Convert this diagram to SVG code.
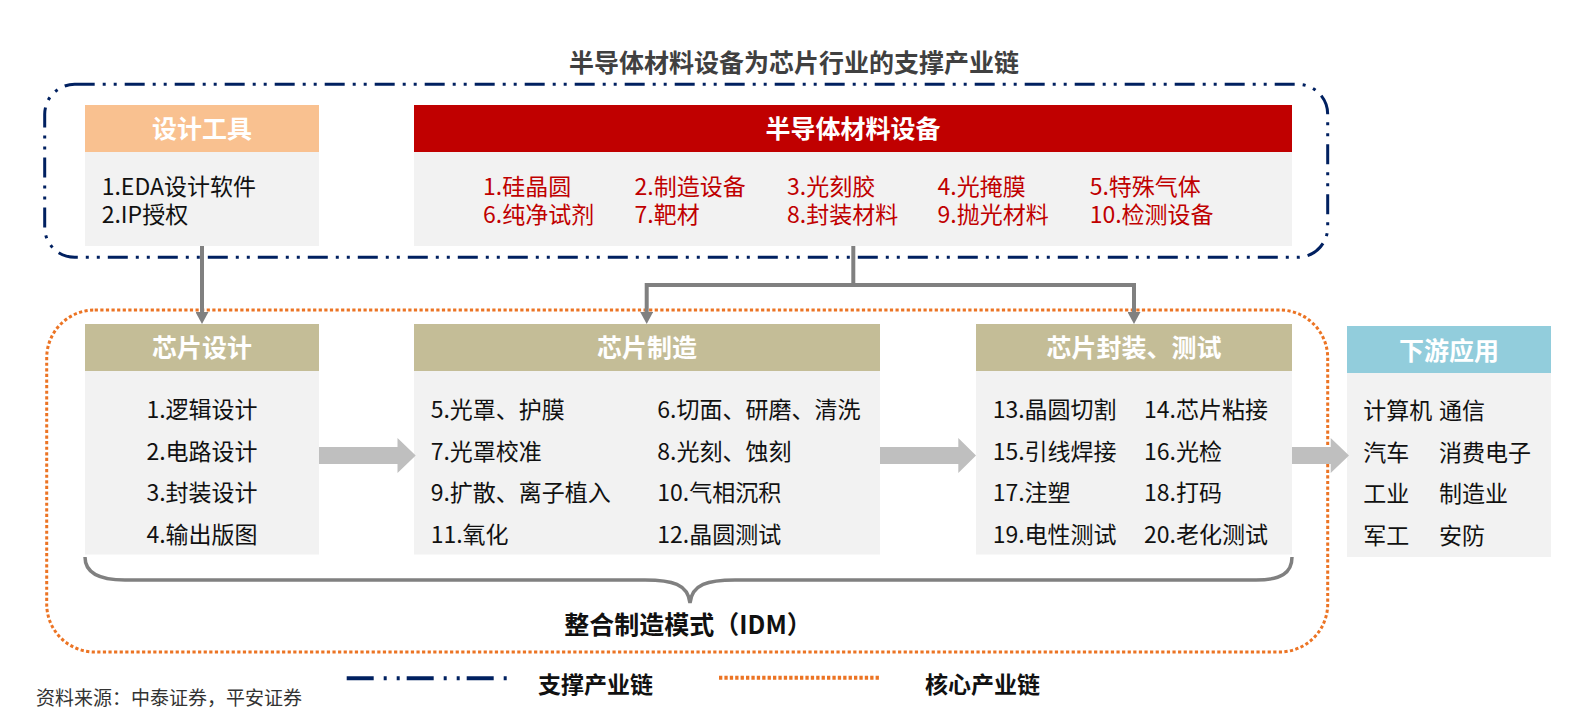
<svg xmlns="http://www.w3.org/2000/svg" width="1584" height="718" viewBox="0 0 1584 718">
<style>
text{font-family:"Noto Sans CJK SC","Noto Sans",sans-serif;}
.title{font-size:25px;font-weight:bold;fill:#404040;}
.hd{font-size:25px;font-weight:bold;fill:#ffffff;text-anchor:middle;}
.tx{font-size:23px;fill:#111111;}
.red{font-size:23px;fill:#C00000;}
.body{fill:#F2F2F2;}
.khaki{fill:#C4BD97;}
.blk{fill:#BFBFBF;}
.conn{fill:none;stroke:#808080;stroke-width:4;}
.lg{font-size:23px;font-weight:bold;fill:#111111;}
</style>
<defs>
<marker id="ah" viewBox="0 0 12 13" markerWidth="12" markerHeight="13" markerUnits="userSpaceOnUse" refX="1" refY="6.5" orient="auto">
<path d="M0,0 L12,6.5 L0,13 z" fill="#808080"/>
</marker>
</defs>
<rect width="1584" height="718" fill="#ffffff"/>

<text class="title" x="794" y="72" text-anchor="middle">半导体材料设备为芯片行业的支撑产业链</text>

<g id="support-chain-frame">
<rect x="44.7" y="84.3" width="1283" height="173" rx="30" ry="30" fill="none" stroke="#002060" stroke-width="3" stroke-dasharray="20 8 3 8 3 8"/>
</g>
<g id="core-chain-frame">
<rect x="46.7" y="310" width="1281" height="342" rx="48" ry="48" fill="none" stroke="#EC7424" stroke-width="3" stroke-dasharray="3.2 2.4"/>
</g>

<g id="design-tools">
<rect x="85" y="105" width="234" height="47" fill="#F9C190"/>
<rect class="body" x="85" y="152" width="234" height="94"/>
<text class="hd" x="202" y="138">设计工具</text>
<text class="tx"><tspan x="101.7" y="195">1.EDA设计软件</tspan><tspan x="101.7" y="223">2.IP授权</tspan></text>
</g>

<g id="materials-equipment">
<rect x="414" y="105" width="878" height="47" fill="#C00000"/>
<rect class="body" x="414" y="152" width="878" height="94"/>
<text class="hd" x="853" y="138">半导体材料设备</text>
<text class="red"><tspan x="483" y="195">1.硅晶圆</tspan><tspan x="483" y="223">6.纯净试剂</tspan></text>
<text class="red"><tspan x="634.5" y="195">2.制造设备</tspan><tspan x="634.5" y="223">7.靶材</tspan></text>
<text class="red"><tspan x="787" y="195">3.光刻胶</tspan><tspan x="787" y="223">8.封装材料</tspan></text>
<text class="red"><tspan x="937.6" y="195">4.光掩膜</tspan><tspan x="937.6" y="223">9.抛光材料</tspan></text>
<text class="red"><tspan x="1089.7" y="195">5.特殊气体</tspan><tspan x="1089.7" y="223">10.检测设备</tspan></text>
</g>

<g id="chip-design">
<rect class="khaki" x="85" y="324" width="234" height="47"/>
<rect class="body" x="85" y="371" width="234" height="183.5"/>
<text class="hd" x="202" y="357">芯片设计</text>
<text class="tx" x="202" y="418" text-anchor="middle">1.逻辑设计</text>
<text class="tx" x="202" y="459.5" text-anchor="middle">2.电路设计</text>
<text class="tx" x="202" y="501" text-anchor="middle">3.封装设计</text>
<text class="tx" x="202" y="542.5" text-anchor="middle">4.输出版图</text>
</g>

<g id="chip-manufacturing">
<rect class="khaki" x="414" y="324" width="466" height="47"/>
<rect class="body" x="414" y="371" width="466" height="183.5"/>
<text class="hd" x="647" y="357">芯片制造</text>
<text class="tx" x="430.7" y="418">5.光罩、护膜</text>
<text class="tx" x="657.3" y="418">6.切面、研磨、清洗</text>
<text class="tx" x="430.7" y="459.5">7.光罩校准</text>
<text class="tx" x="657.3" y="459.5">8.光刻、蚀刻</text>
<text class="tx" x="430.7" y="501">9.扩散、离子植入</text>
<text class="tx" x="657.3" y="501">10.气相沉积</text>
<text class="tx" x="430.7" y="542.5">11.氧化</text>
<text class="tx" x="657.3" y="542.5">12.晶圆测试</text>
</g>

<g id="chip-packaging-testing">
<rect class="khaki" x="976" y="324" width="316" height="47"/>
<rect class="body" x="976" y="371" width="316" height="183.5"/>
<text class="hd" x="1134" y="357">芯片封装、测试</text>
<text class="tx" x="992.7" y="418">13.晶圆切割</text>
<text class="tx" x="1144" y="418">14.芯片粘接</text>
<text class="tx" x="992.7" y="459.5">15.引线焊接</text>
<text class="tx" x="1144" y="459.5">16.光检</text>
<text class="tx" x="992.7" y="501">17.注塑</text>
<text class="tx" x="1144" y="501">18.打码</text>
<text class="tx" x="992.7" y="542.5">19.电性测试</text>
<text class="tx" x="1144" y="542.5">20.老化测试</text>
</g>

<g id="downstream-applications">
<rect x="1347" y="326" width="204" height="47" fill="#92CDDC"/>
<rect class="body" x="1347" y="373" width="204" height="184"/>
<text class="hd" x="1449" y="360">下游应用</text>
<text class="tx" x="1363.3" y="419">计算机</text>
<text class="tx" x="1439" y="419">通信</text>
<text class="tx" x="1363.3" y="460.5">汽车</text>
<text class="tx" x="1439" y="460.5">消费电子</text>
<text class="tx" x="1363.3" y="502">工业</text>
<text class="tx" x="1439" y="502">制造业</text>
<text class="tx" x="1363.3" y="543.5">军工</text>
<text class="tx" x="1439" y="543.5">安防</text>
</g>

<g id="connectors">
<path class="conn" d="M202,246 L202,313" marker-end="url(#ah)"/>
<path class="conn" d="M853.3,246 L853.3,285"/>
<path class="conn" d="M646.7,285 L1134,285 L1134,313" marker-end="url(#ah)"/>
<path class="conn" d="M646.7,283 L646.7,313" marker-end="url(#ah)"/>
<polygon class="blk" points="319,447 397.5,447 397.5,438 415.7,455.5 397.5,473 397.5,464 319,464"/>
<polygon class="blk" points="880,447 958.3,447 958.3,438 976,455.5 958.3,473 958.3,464 880,464"/>
<polygon class="blk" points="1292,447 1330.7,447 1330.7,438 1349,455.5 1330.7,473 1330.7,464 1292,464"/>
</g>

<g id="idm-brace">
<path d="M85,557 C85,573 100,580 125,580 L645,580 C672,580 688,584 690,603 C692,584 708,580 735,580 L1256,580 C1281,580 1292,573 1292,557" fill="none" stroke="#808080" stroke-width="3.5"/>
<text x="688" y="633.5" text-anchor="middle" font-size="25" font-weight="bold" fill="#111111">整合制造模式（IDM）</text>
</g>

<g id="legend">
<line x1="346.7" y1="678.3" x2="506.7" y2="678.3" stroke="#002060" stroke-width="4" stroke-dasharray="27 10 3 10 3 7"/>
<text class="lg" x="538" y="693">支撑产业链</text>
<line x1="719" y1="677.7" x2="881" y2="677.7" stroke="#EC7424" stroke-width="4" stroke-dasharray="3.3 2.1"/>
<text class="lg" x="925" y="693">核心产业链</text>
</g>

<text x="36" y="705" font-size="19" fill="#333333">资料来源：中泰证券，平安证券</text>
</svg>
